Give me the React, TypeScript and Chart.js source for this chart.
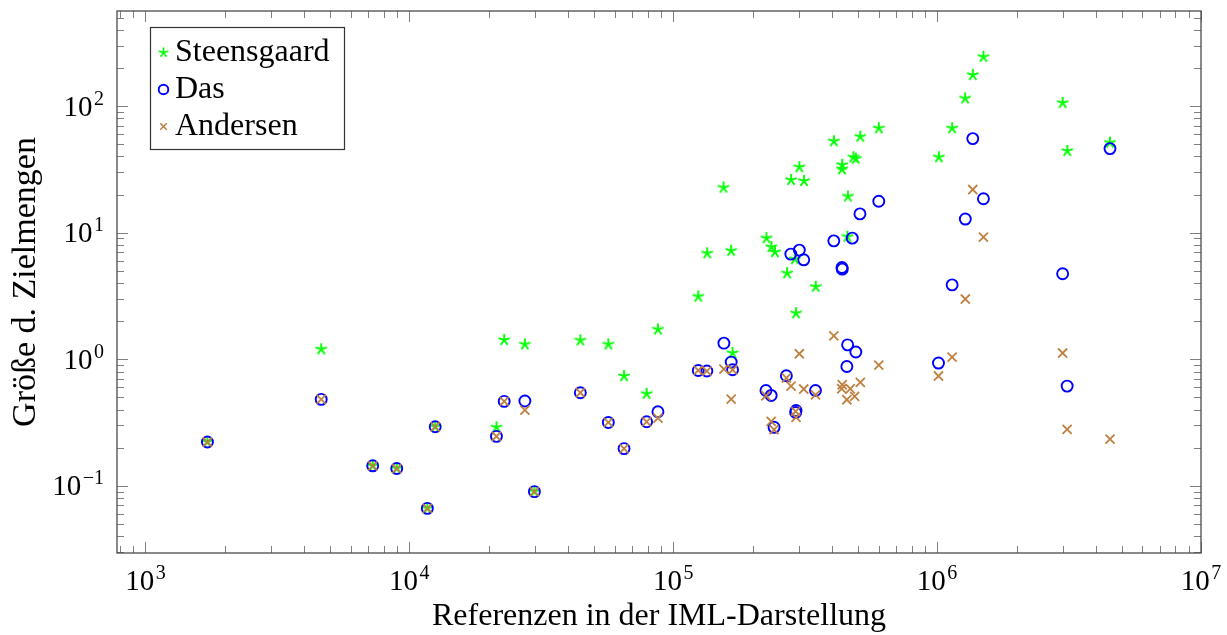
import { useEffect, useRef } from 'react';
import { Chart, registerables } from 'chart.js';

Chart.register(...registerables);

// [references, size of target set]
const steensgaard: [number, number][] = [
  [1717, 0.222], [4634, 1.2], [7262, 0.144], [8958, 0.137], [11700, 0.0664],
  [12530, 0.293], [21380, 0.29], [22880, 1.42], [27400, 1.31], [29780, 0.09],
  [44460, 1.41], [56760, 1.31], [65100, 0.737], [79270, 0.534], [87500, 1.72],
  [124400, 3.13], [134500, 6.87], [155100, 22.7], [165800, 7.2], [167800, 1.12],
  [225600, 9.05], [235500, 7.7], [243000, 7.02], [270000, 4.78], [279600, 26.1],
  [289000, 6.18], [292000, 2.31], [300500, 32.9], [313000, 25.6], [346700, 3.74],
  [406000, 52.7], [437000, 34.3], [436000, 31.7], [459000, 19.3], [457000, 9.3],
  [482000, 39.4], [492000, 38.5], [511600, 57.3], [601000, 66.8], [1015000, 39.4],
  [1140000, 66.8], [1277000, 115], [1365000, 176], [1498000, 245], [2990000, 106],
  [3115000, 44.2], [4520000, 51.4],
];

const das: [number, number][] = [
  [1717, 0.222], [4634, 0.482], [7262, 0.144], [8958, 0.137], [11700, 0.0664],
  [12530, 0.293], [21380, 0.246], [22880, 0.465], [27400, 0.468], [29780, 0.09],
  [44460, 0.544], [56760, 0.317], [65100, 0.197], [79270, 0.321], [87500, 0.385],
  [124400, 0.816], [134100, 0.807], [155600, 1.34], [165800, 0.95], [167800, 0.826],
  [224600, 0.567], [235000, 0.518], [241000, 0.29], [268400, 0.741], [279000, 6.77],
  [291000, 0.38], [292000, 0.394], [300500, 7.28], [312300, 6.1], [346000, 0.567],
  [406000, 8.61], [436000, 5.3], [437000, 5.15], [458000, 1.3], [455000, 0.877],
  [477000, 9.05], [492000, 1.14], [510000, 14.06], [601000, 17.7], [1012000, 0.933],
  [1140000, 3.87], [1279000, 12.8], [1365000, 55.3], [1498000, 18.5], [2990000, 4.73],
  [3110000, 0.614], [4520000, 46.1],
];

const andersen: [number, number][] = [
  [1717, 0.222], [4634, 0.482], [7262, 0.144], [8958, 0.137], [11700, 0.0664],
  [12530, 0.293], [21380, 0.246], [22880, 0.465], [27400, 0.397], [29780, 0.09],
  [44460, 0.544], [56760, 0.317], [65100, 0.197], [79270, 0.321], [87500, 0.343],
  [124400, 0.816], [134100, 0.807], [155600, 0.837], [165800, 0.485], [167800, 0.826],
  [224600, 0.515], [235000, 0.323], [241000, 0.278], [268400, 0.711], [279600, 0.614],
  [291000, 0.388], [292000, 0.347], [300500, 1.105], [312300, 0.582], [346000, 0.524],
  [406000, 1.53], [437000, 0.629], [435000, 0.585], [455000, 0.479], [468700, 0.585],
  [487000, 0.509], [511600, 0.656], [601000, 0.9], [1012000, 0.737], [1140000, 1.04],
  [1279000, 2.99], [1365000, 21.9], [1498000, 9.21], [2990000, 1.12], [3110000, 0.279],
  [4520000, 0.234],
];

const seriesNames = ['Steensgaard', 'Das', 'Andersen'];

const xTickValues = [1e3, 1e4, 1e5, 1e6, 1e7];
const xTickExponents = ['3', '4', '5', '6', '7'];
const yTickValues = [1e-1, 1e0, 1e1, 1e2];
const yTickExponents = ['\u22121', '0', '1', '2'];

const xRange = [780, 1e7];
const yRange = [0.0295, 563];

const xTitle = 'Referenzen in der IML-Darstellung';
const yTitle = 'Größe d. Zielmengen';

const FONT = '"Liberation Serif", "DejaVu Serif", serif';
const GREEN = '#00ff00';
const BLUE = '#0000ff';
const BROWN = '#bf8040';

// five-ray asterisk, as used for the first series
function makeStarMark(color: string, r: number, lw: number): HTMLCanvasElement {
  const size = Math.ceil(2 * r + lw + 2);
  const c = document.createElement('canvas');
  c.width = size;
  c.height = size;
  const ctx = c.getContext('2d')!;
  ctx.strokeStyle = color;
  ctx.lineWidth = lw;
  const cx = size / 2;
  const cy = size / 2;
  ctx.beginPath();
  for (let k = 0; k < 5; k++) {
    const a = -Math.PI / 2 + (k * 2 * Math.PI) / 5;
    ctx.moveTo(cx, cy);
    ctx.lineTo(cx + r * Math.cos(a), cy + r * Math.sin(a));
  }
  ctx.stroke();
  return c;
}

function drawPower(
  ctx: CanvasRenderingContext2D,
  exp: string,
  x: number,
  baseline: number,
  align: 'center' | 'right'
) {
  const baseFont = `29px ${FONT}`;
  const supFont = `20px ${FONT}`;
  ctx.font = baseFont;
  const wb = ctx.measureText('10').width;
  ctx.font = supFont;
  const ws = ctx.measureText(exp).width;
  const gap = 1.5;
  const total = wb + gap + ws;
  const start = align === 'center' ? x - total / 2 : x - total;
  ctx.textAlign = 'left';
  ctx.textBaseline = 'alphabetic';
  ctx.font = baseFont;
  ctx.fillText('10', start, baseline);
  ctx.font = supFont;
  ctx.fillText(exp, start + wb + gap, baseline - 11);
}

const axisDecor = {
  id: 'axisDecor',
  beforeDatasetsDraw(chart: any) {
    const { ctx, chartArea: a, scales } = chart;
    const xs = scales.x;
    const ys = scales.y;
    ctx.save();
    ctx.strokeStyle = '#808080';
    ctx.lineWidth = 1;
    const major = 11;
    const minor = 7;
    const tickSet = (lo: number, hi: number) => {
      const out: { v: number; major: boolean }[] = [];
      for (let d = Math.floor(Math.log10(lo)); d <= Math.ceil(Math.log10(hi)); d++) {
        for (let m = 1; m <= 9; m++) {
          const v = m * Math.pow(10, d);
          if (v >= lo && v <= hi) out.push({ v, major: m === 1 });
        }
      }
      return out;
    };
    ctx.beginPath();
    for (const t of tickSet(xs.min, xs.max)) {
      const px = Math.round(xs.getPixelForValue(t.v)) + 0.5;
      const len = t.major ? major : minor;
      ctx.moveTo(px, a.bottom);
      ctx.lineTo(px, a.bottom - len);
      ctx.moveTo(px, a.top);
      ctx.lineTo(px, a.top + len);
    }
    for (const t of tickSet(ys.min, ys.max)) {
      const py = Math.round(ys.getPixelForValue(t.v)) + 0.5;
      const len = t.major ? major : minor;
      ctx.moveTo(a.left, py);
      ctx.lineTo(a.left + len, py);
      ctx.moveTo(a.right, py);
      ctx.lineTo(a.right - len, py);
    }
    ctx.stroke();

    ctx.strokeStyle = '#4a4a4a';
    ctx.lineWidth = 1.3;
    ctx.strokeRect(a.left, a.top, a.right - a.left, a.bottom - a.top);

    ctx.fillStyle = '#000';
    xTickValues.forEach((v, i) => {
      drawPower(ctx, xTickExponents[i], xs.getPixelForValue(v), a.bottom + 37, 'center');
    });
    yTickValues.forEach((v, i) => {
      drawPower(ctx, yTickExponents[i], a.left - 13, ys.getPixelForValue(v) + 9.5, 'right');
    });

    ctx.font = `32px ${FONT}`;
    ctx.textAlign = 'center';
    ctx.textBaseline = 'alphabetic';
    ctx.fillText(xTitle, (a.left + a.right) / 2, a.bottom + 72);
    ctx.save();
    ctx.font = `34px ${FONT}`;
    ctx.translate(35, (a.top + a.bottom) / 2);
    ctx.rotate(-Math.PI / 2);
    ctx.fillText(yTitle, 0, 0);
    ctx.restore();
    ctx.restore();
  },
  afterDatasetsDraw(chart: any) {
    const { ctx, chartArea: a } = chart;
    const bx = a.left + 33.5;
    const by = a.top + 16.5;
    const bw = 194;
    const bh = 122;
    ctx.save();
    ctx.fillStyle = '#fff';
    ctx.fillRect(bx, by, bw, bh);
    ctx.strokeStyle = '#333';
    ctx.lineWidth = 1.2;
    ctx.strokeRect(bx, by, bw, bh);
    const markX = bx + 13;
    const rows = [by + 25, by + 62, by + 99];
    const styles = chart.data.datasets;
    rows.forEach((cy, i) => {
      const ds = styles[chart.data.datasets.findIndex((d: any) => d.label === seriesNames[i])];
      const ps = ds.pointStyle;
      if (typeof ps === 'object') {
        const s = 0.85;
        ctx.drawImage(ps, markX - (ps.width * s) / 2, cy - (ps.height * s) / 2, ps.width * s, ps.height * s);
      } else if (ps === 'circle') {
        ctx.strokeStyle = ds.borderColor;
        ctx.lineWidth = ds.borderWidth;
        ctx.beginPath();
        ctx.arc(markX, cy, 4.8, 0, Math.PI * 2);
        ctx.stroke();
      } else {
        const h = 3.3;
        ctx.strokeStyle = ds.borderColor;
        ctx.lineWidth = ds.borderWidth - 0.3;
        ctx.beginPath();
        ctx.moveTo(markX - h, cy - h);
        ctx.lineTo(markX + h, cy + h);
        ctx.moveTo(markX - h, cy + h);
        ctx.lineTo(markX + h, cy - h);
        ctx.stroke();
      }
      ctx.fillStyle = '#000';
      ctx.font = `32px ${FONT}`;
      ctx.textAlign = 'left';
      ctx.textBaseline = 'alphabetic';
      ctx.fillText(seriesNames[i], markX + 11.5, cy + 8.5);
    });
    ctx.restore();
  },
};

export default function App() {
  const canvasRef = useRef<HTMLCanvasElement | null>(null);

  useEffect(() => {
    const canvas = canvasRef.current;
    if (!canvas) return;
    const starMark = makeStarMark(GREEN, 6, 1.9);
    const toPoints = (arr: [number, number][]) => arr.map(([x, y]) => ({ x, y }));
    const chart = new Chart(canvas, {
      type: 'scatter',
      data: {
        datasets: [
          {
            label: seriesNames[0],
            data: toPoints(steensgaard),
            pointStyle: starMark as any,
            pointRadius: 6,
            borderColor: GREEN,
            backgroundColor: GREEN,
            order: 3,
          },
          {
            label: seriesNames[1],
            data: toPoints(das),
            pointStyle: 'circle',
            pointRadius: 5.5,
            borderWidth: 1.9,
            borderColor: BLUE,
            backgroundColor: 'rgba(0,0,0,0)',
            order: 2,
          },
          {
            label: seriesNames[2],
            data: toPoints(andersen),
            pointStyle: 'crossRot',
            pointRadius: 6.4,
            borderWidth: 1.8,
            borderColor: BROWN,
            backgroundColor: BROWN,
            order: 1,
          },
        ],
      },
      options: {
        animation: false,
        responsive: false,
        devicePixelRatio: 1,
        layout: { padding: { left: 117, right: 26, top: 11, bottom: 82 } },
        plugins: { legend: { display: false }, tooltip: { enabled: false } },
        scales: {
          x: { type: 'logarithmic', display: false, min: xRange[0], max: xRange[1], bounds: 'data' },
          y: { type: 'logarithmic', display: false, min: yRange[0], max: yRange[1], bounds: 'data' },
        },
      },
      plugins: [axisDecor],
    });
    return () => chart.destroy();
  }, []);

  return (
    <div style={{ position: 'absolute', left: 0, top: 0, width: 1227, height: 635, background: '#fff' }}>
      <canvas ref={canvasRef} width={1227} height={635} style={{ width: 1227, height: 635, display: 'block' }} />
    </div>
  );
}
